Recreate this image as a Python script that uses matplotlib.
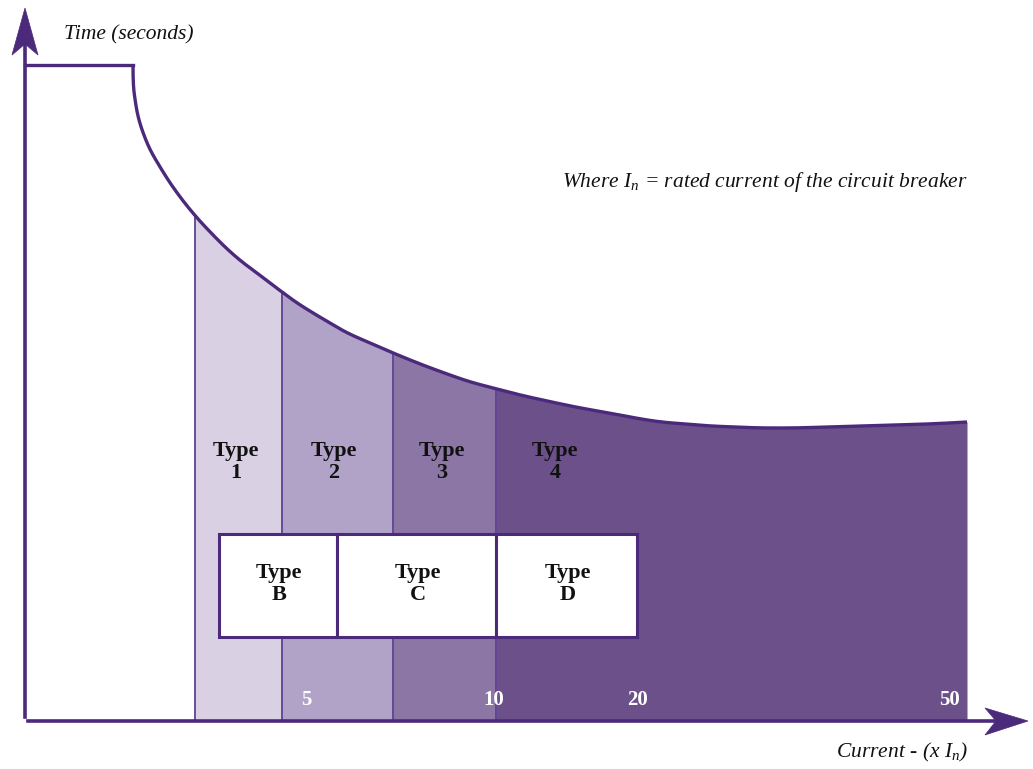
import numpy as np
import matplotlib
matplotlib.use("Agg")
import matplotlib.pyplot as plt
from matplotlib.patches import Rectangle, Polygon

plt.rcParams["mathtext.fontset"] = "custom"
plt.rcParams["mathtext.it"] = "Liberation Serif:italic"
plt.rcParams["mathtext.rm"] = "Liberation Serif"

# ---- data (diagram coordinates) ----
curve_x = [133, 133, 135, 138, 143, 150, 160, 170, 183, 197, 212, 227, 242, 257, 270, 282,
           297, 313, 330, 347, 370, 393, 420, 447, 470, 497, 520, 547, 580, 610, 635,
           660, 685, 710, 735, 760, 795, 827, 860, 893, 930, 967]
curve_y = [65, 83, 100, 117, 133, 150, 167, 183, 201, 218, 234, 249, 262, 273, 283, 292,
           303, 313, 323, 333, 343, 353, 364, 374, 382, 389, 395, 401, 408, 413, 418,
           422, 424, 426, 427, 428, 428, 427, 426, 425, 424, 422]
flat_top = [25, 133, 65]       # x0, x1, y of flat plateau
band_edges = [195, 282, 393, 496, 967]
band_colors = ["#d9d0e4", "#b1a3c8", "#8c76a6", "#6b5089"]
band_labels = ["Type\n1", "Type\n2", "Type\n3", "Type\n4"]
band_label_x = [236, 334, 442, 555]
box_edges = [219, 337, 496, 637]
box_labels = ["Type\nB", "Type\nC", "Type\nD"]
tick_labels = ["5", "10", "20", "50"]
tick_x = [306, 494, 638, 950]

W, H = 1033, 769
ax_y0 = 721          # x-axis baseline
ax_x0 = 25           # y-axis position
line_col = "#4b2a7b"
SERIF = "Liberation Serif"

fig = plt.figure(figsize=(W / 100, H / 100), dpi=100)
ax = fig.add_axes([0, 0, 1, 1])
ax.set_xlim(0, W)
ax.set_ylim(H, 0)
ax.axis("off")


def smooth(xs, ys, n=30):
    """Quadratic Bezier smoothing through midpoints (rendering only)."""
    P = np.column_stack([xs, ys]).astype(float)
    out = [P[0]]
    mids = (P[:-1] + P[1:]) / 2
    t = np.linspace(0, 1, n)[1:, None]
    start = P[0]
    for i in range(1, len(P) - 1):
        end = mids[i]
        ctrl = P[i]
        seg = (1 - t) ** 2 * start + 2 * (1 - t) * t * ctrl + t ** 2 * end
        out.extend(seg)
        start = end
    out.append(P[-1])
    out = np.array(out)
    return out[:, 0], out[:, 1]


sx, sy = smooth(curve_x, curve_y)
lower = sy > 150

# bands under curve
for i, col in enumerate(band_colors):
    a, b = band_edges[i], band_edges[i + 1]
    m = (sx > a) & (sx < b) & lower
    xs = np.concatenate([[a], sx[m], [b]])
    ys = np.concatenate([[np.interp(a, sx[lower], sy[lower])], sy[m],
                         [np.interp(b, sx[lower], sy[lower])]])
    ax.fill_between(xs, ys, ax_y0, color=col, lw=0, zorder=1)
# band boundary lines
for e in band_edges[:-1]:
    yt = np.interp(e, sx[lower], sy[lower])
    ax.plot([e, e], [yt, ax_y0], color="#5d4190", lw=1.3, zorder=2)

# curve + plateau
ax.plot([flat_top[0], flat_top[1]], [flat_top[2], flat_top[2]], color=line_col, lw=2.4,
        zorder=3, solid_capstyle="projecting")
ax.plot(sx, sy, color=line_col, lw=2.4, zorder=3, solid_capstyle="butt")

# band labels
for x, lab in zip(band_label_x, band_labels):
    ax.text(x, 462, lab, ha="center", va="center", fontsize=16, fontweight="bold",
            family=SERIF, color="#111111", linespacing=1.12, zorder=5)

# boxes
for i, lab in enumerate(box_labels):
    a, b = box_edges[i], box_edges[i + 1]
    ax.add_patch(Rectangle((a, 534), b - a, 103, facecolor="white", edgecolor=line_col,
                           lw=2.2, zorder=4))
    ax.text((a + b) / 2 + 1, 584, lab, ha="center", va="center", fontsize=16,
            fontweight="bold", family=SERIF, color="#111111", linespacing=1.12, zorder=5)

# tick labels
for x, lab in zip(tick_x, tick_labels):
    ax.text(x, 700, lab, ha="center", va="center", fontsize=15, fontweight="bold",
            family=SERIF, color="white", zorder=5)

# axes with arrows
ax.plot([ax_x0, ax_x0], [717, 40], color=line_col, lw=2.6, zorder=6)
ax.add_patch(Polygon([[ax_x0, 8], [38, 55], [ax_x0, 44], [12, 55]], closed=True,
                     facecolor=line_col, edgecolor=line_col, lw=0.5, zorder=6))
ax.plot([28, 1000], [ax_y0, ax_y0], color=line_col, lw=2.6, zorder=6)
ax.add_patch(Polygon([[1028, ax_y0], [985, 735], [996, ax_y0], [985, 708]], closed=True,
                     facecolor=line_col, edgecolor=line_col, lw=0.5, zorder=6))

# titles / annotations
ax.text(64, 35, "Time (seconds)", ha="left", va="center", fontsize=15.5, style="italic",
        family=SERIF, color="#111111")
ax.text(968, 182, r"Where $I_{n}$ = rated current of the circuit breaker",
        ha="right", va="center", fontsize=15.5, style="italic",
        family=SERIF, color="#111111")
ax.text(968, 752, r"Current - (x $I_{n}$)", ha="right", va="center", fontsize=15.5,
        style="italic", family=SERIF, color="#111111")

fig.savefig("out.png", dpi=100)
